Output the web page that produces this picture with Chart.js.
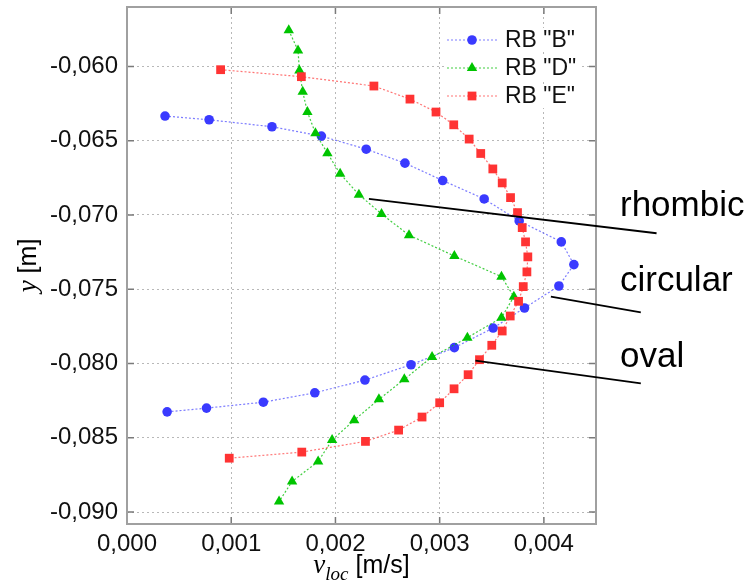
<!DOCTYPE html>
<html>
<head>
<meta charset="utf-8">
<script src="https://cdn.jsdelivr.net/npm/chart.js@4.4.1/dist/chart.umd.min.js"></script>
<style>
    html, body { margin: 0; padding: 0; background: #fff; }
    #chart { display: block; }
</style>
</head>
<body>
<canvas id="chart" width="755" height="586"></canvas>
<script>
// tick values
var xTicks = [0, 0.001, 0.002, 0.003, 0.004];
var yTicks = [-0.060, -0.065, -0.070, -0.075, -0.080, -0.085, -0.090];

// RB "B" (circular)
var bX = [0.000365, 0.000788, 0.001391, 0.001865, 0.002295, 0.002667, 0.003029, 0.003427, 0.003763, 0.004167, 0.004288,
          0.004144, 0.003814, 0.003513, 0.003141, 0.002725, 0.002283, 0.001802, 0.001308, 0.000763, 0.000385];
var bY = [-0.06334, -0.06359, -0.06406, -0.06469, -0.06557, -0.06651, -0.06768, -0.06892, -0.07040, -0.07181, -0.07334,
          -0.07478, -0.07626, -0.07761, -0.07893, -0.08008, -0.08111, -0.08197, -0.08260, -0.08300, -0.08325];

// RB "D" (rhombic)
var dX = [0.001552, 0.001641, 0.001654, 0.001686, 0.001731, 0.001808, 0.001923, 0.002045, 0.002225, 0.002442, 0.002706, 0.003141,
          0.003593, 0.003712, 0.003593, 0.003266, 0.002927, 0.002661, 0.002417, 0.002180, 0.001968, 0.001834, 0.001584, 0.001459];
var dY = [-0.05757, -0.05892, -0.06027, -0.06170, -0.06307, -0.06449, -0.06584, -0.06723, -0.06863, -0.06993, -0.07136, -0.07276,
          -0.07415, -0.07550, -0.07691, -0.07826, -0.07956, -0.08106, -0.08241, -0.08381, -0.08515, -0.08659, -0.08794, -0.08929];

// RB "E" (oval)
var eX = [0.000898, 0.001673, 0.002369, 0.002715, 0.002965, 0.003135, 0.003283, 0.003394, 0.003510, 0.003600,
          0.003680, 0.003747, 0.003792, 0.003824, 0.003846, 0.003837, 0.003802, 0.003757, 0.003677, 0.003600,
          0.003500, 0.003382, 0.003273, 0.003138, 0.003000, 0.002831, 0.002606, 0.002288, 0.001677, 0.000981];
var eY = [-0.06022, -0.06069, -0.06132, -0.06220, -0.06307, -0.06393, -0.06489, -0.06586, -0.06690, -0.06784,
          -0.06883, -0.06984, -0.07085, -0.07181, -0.07282, -0.07383, -0.07482, -0.07581, -0.07680, -0.07781,
          -0.07877, -0.07974, -0.08075, -0.08170, -0.08264, -0.08360, -0.08448, -0.08524, -0.08596, -0.08637];

var seriesNames = ['RB "B"', 'RB "D"', 'RB "E"'];

// callout lines (data coords) and their labels
var calloutNames = ['rhombic', 'circular', 'oval'];
var calloutFrom = [[0.002321, -0.06891], [0.004067, -0.07550], [0.003343, -0.07981]];
var calloutTo = [[0.005081, -0.07123], [0.004930, -0.07655], [0.004930, -0.08133]];
var calloutText = [[0.00473, -0.07006], [0.00473, -0.07511], [0.00473, -0.08022]];

var sans = '"Liberation Sans", Arial, sans-serif';
var serif = '"Liberation Serif", "DejaVu Serif", serif';

function toPoints(xs, ys) {
    var pts = [];
    for (var i = 0; i < xs.length; i++) {
        pts.push({x: xs[i], y: ys[i]});
    }
    return pts;
}

function makeSet(name, xs, ys, color, line, style, radius, order) {
    return {
        label: name,
        data: toPoints(xs, ys),
        showLine: true,
        borderColor: line,
        borderWidth: 1.2,
        borderDash: [2, 2],
        backgroundColor: color,
        pointBackgroundColor: color,
        pointBorderColor: color,
        pointBorderWidth: 0,
        pointStyle: style,
        pointRadius: radius,
        order: order
    };
}

function fmt(v) {
    return v.toFixed(3).replace('.', ',');
}

function marker(ctx, style, x, y, r) {
    ctx.beginPath();
    if (style === 'circle') {
        ctx.arc(x, y, r, 0, Math.PI * 2);
    } else if (style === 'triangle') {
        ctx.moveTo(x, y - r);
        ctx.lineTo(x + r * 0.866, y + r * 0.5);
        ctx.lineTo(x - r * 0.866, y + r * 0.5);
        ctx.closePath();
    } else {
        var s = r * Math.SQRT1_2;
        ctx.rect(x - s, y - s, 2 * s, 2 * s);
    }
    ctx.fill();
}

var framePlugin = {
    id: 'frame',
    afterDatasetsDraw: function (chart) {
        var ctx = chart.ctx;
        var a = chart.chartArea;
        var xs = chart.scales.x, ys = chart.scales.y;

        // inward tick marks on all sides
        ctx.save();
        ctx.strokeStyle = '#7a7a7a';
        ctx.lineWidth = 1.5;
        ctx.beginPath();
        xTicks.forEach(function (v) {
            var px = xs.getPixelForValue(v);
            ctx.moveTo(px, a.bottom); ctx.lineTo(px, a.bottom - 7);
            ctx.moveTo(px, a.top); ctx.lineTo(px, a.top + 7);
        });
        yTicks.forEach(function (v) {
            var py = ys.getPixelForValue(v);
            ctx.moveTo(a.left, py); ctx.lineTo(a.left + 7, py);
            ctx.moveTo(a.right, py); ctx.lineTo(a.right - 7, py);
        });
        ctx.stroke();

        // border
        ctx.strokeStyle = '#a0a0a0';
        ctx.lineWidth = 2;
        ctx.strokeRect(a.left, a.top, a.right - a.left, a.bottom - a.top);

        // legend
        ctx.font = '23px ' + sans;
        ctx.textBaseline = 'middle';
        chart.data.datasets.forEach(function (ds, i) {
            var ry = 40 + i * 28;
            var tw = ctx.measureText(ds.label).width;
            ctx.fillStyle = '#fff';
            ctx.fillRect(446, ry - 12, tw + 64, 24);
            ctx.strokeStyle = ds.borderColor;
            ctx.lineWidth = 1.2;
            ctx.setLineDash([2, 2]);
            ctx.beginPath();
            ctx.moveTo(447, ry); ctx.lineTo(497, ry);
            ctx.stroke();
            ctx.setLineDash([]);
            ctx.fillStyle = ds.pointBackgroundColor;
            marker(ctx, ds.pointStyle, 472, ry, ds.pointRadius);
            ctx.fillStyle = '#111';
            ctx.textAlign = 'left';
            ctx.fillText(ds.label, 505, ry + 1);
        });

        // callouts
        ctx.strokeStyle = '#000';
        ctx.lineWidth = 1.8;
        for (var i = 0; i < calloutNames.length; i++) {
            ctx.beginPath();
            ctx.moveTo(xs.getPixelForValue(calloutFrom[i][0]), ys.getPixelForValue(calloutFrom[i][1]));
            ctx.lineTo(xs.getPixelForValue(calloutTo[i][0]), ys.getPixelForValue(calloutTo[i][1]));
            ctx.stroke();
        }
        ctx.fillStyle = '#000';
        ctx.font = '35px ' + sans;
        ctx.textBaseline = 'alphabetic';
        for (var j = 0; j < calloutNames.length; j++) {
            ctx.fillText(calloutNames[j], xs.getPixelForValue(calloutText[j][0]), ys.getPixelForValue(calloutText[j][1]));
        }

        // axis titles
        var cx = (a.left + a.right) / 2;
        ctx.font = 'italic 27px ' + serif;
        var w1 = ctx.measureText('v').width;
        ctx.font = 'italic 19px ' + serif;
        var w2 = ctx.measureText('loc').width;
        ctx.font = '25px ' + sans;
        var w3 = ctx.measureText(' [m/s]').width;
        var x0 = cx - (w1 + w2 + w3) / 2;
        ctx.font = 'italic 27px ' + serif;
        ctx.fillText('v', x0, 573);
        ctx.font = 'italic 19px ' + serif;
        ctx.fillText('loc', x0 + w1, 580);
        ctx.font = '25px ' + sans;
        ctx.fillText(' [m/s]', x0 + w1 + w2, 573);

        ctx.translate(36, (a.top + a.bottom) / 2);
        ctx.rotate(-Math.PI / 2);
        ctx.font = 'italic 27px ' + serif;
        var wy = ctx.measureText('y').width;
        ctx.font = '25px ' + sans;
        var wm = ctx.measureText(' [m]').width;
        ctx.font = 'italic 27px ' + serif;
        ctx.fillText('y', -(wy + wm) / 2, 0);
        ctx.font = '25px ' + sans;
        ctx.fillText(' [m]', -(wy + wm) / 2 + wy, 0);
        ctx.restore();
    }
};

new Chart(document.getElementById('chart').getContext('2d'), {
    type: 'scatter',
    data: {
        datasets: [
            makeSet(seriesNames[0], bX, bY, '#3a3aff', 'rgba(80,80,255,0.75)', 'circle', 4.8, 2),
            makeSet(seriesNames[1], dX, dY, '#00c400', 'rgba(0,190,0,0.75)', 'triangle', 6, 1),
            makeSet(seriesNames[2], eX, eY, '#ff3333', 'rgba(255,70,70,0.75)', 'rect', 6.2, 0)
        ]
    },
    options: {
        responsive: false,
        animation: false,
        layout: {padding: {left: 0, right: 159, top: 7, bottom: 0}},
        plugins: {legend: {display: false}, tooltip: {enabled: false}},
        scales: {
            x: {
                type: 'linear',
                min: 0,
                max: 0.0045,
                afterBuildTicks: function (scale) {
                    scale.ticks = xTicks.map(function (v) { return {value: v}; });
                },
                afterFit: function (scale) {
                    scale.height = 62;
                    scale.paddingLeft = 0;
                    scale.paddingRight = 0;
                },
                grid: {color: '#b8b8b8', lineWidth: 1, drawTicks: false},
                border: {display: false, dash: [2, 3]},
                ticks: {
                    padding: 6,
                    color: '#111',
                    font: {family: sans, size: 24},
                    maxRotation: 0,
                    callback: function (v) { return fmt(v); }
                }
            },
            y: {
                type: 'linear',
                min: -0.0908,
                max: -0.056,
                afterBuildTicks: function (scale) {
                    scale.ticks = yTicks.map(function (v) { return {value: v}; });
                },
                afterFit: function (scale) {
                    scale.width = 127;
                    scale.paddingTop = 0;
                    scale.paddingBottom = 0;
                },
                grid: {color: '#b8b8b8', lineWidth: 1, drawTicks: false},
                border: {display: false, dash: [2, 3]},
                ticks: {
                    padding: 9,
                    color: '#111',
                    font: {family: sans, size: 24},
                    callback: function (v) { return fmt(v); }
                }
            }
        }
    },
    plugins: [framePlugin]
});
</script>
</body>
</html>
